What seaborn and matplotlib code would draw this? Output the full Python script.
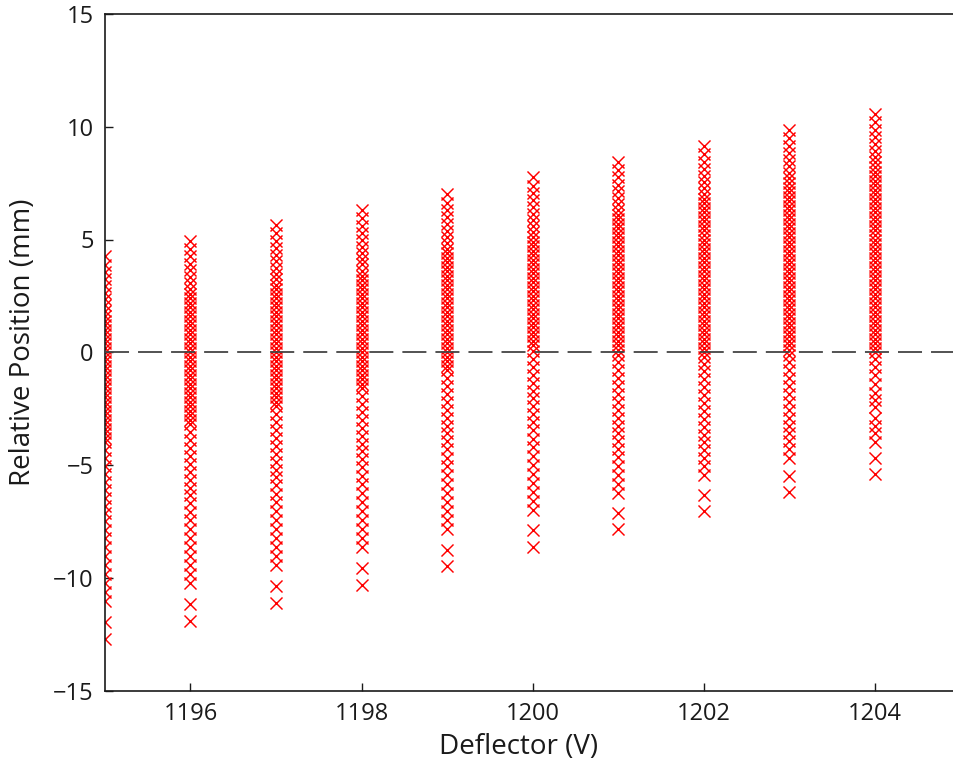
import numpy as np
import pandas as pd
import matplotlib
matplotlib.use("Agg")
import matplotlib.pyplot as plt
import seaborn as sns

# Deflector voltages (V)
voltages = [1195, 1196, 1197, 1198, 1199, 1200, 1201, 1202, 1203, 1204]

pos_1195 = [-12.7, -11.95, -11.05, -10.65, -10.25, -9.85, -9.45, -9.05, -8.65, -8.25, -7.9, -7.5,
            -7.15, -6.8, -6.45, -6.1, -5.75, -5.4, -5.05, -4.7, -4.35, -4.0,
            -3.8, -3.6, -3.4, -3.2, -3.0, -2.8, -2.6, -2.4, -2.2, -2.0, -1.8, -1.6, -1.4, -1.2,
            -1.0, -0.8, -0.6, -0.4, -0.2, 0.0, 0.2, 0.4, 0.6, 0.8, 1.0, 1.2, 1.4, 1.6,
            1.85, 2.09, 2.35, 2.63, 2.92, 3.23, 3.55, 3.89, 4.25]
pos_1196 = [-11.9, -11.15, -10.25, -9.85, -9.45, -9.05, -8.65, -8.25, -7.85, -7.45, -7.1, -6.7,
            -6.35, -6.0, -5.65, -5.3, -4.95, -4.6, -4.25, -3.9, -3.55, -3.2,
            -3.0, -2.8, -2.6, -2.4, -2.2, -2.0, -1.8, -1.6, -1.4, -1.2, -1.0, -0.8, -0.6, -0.4,
            -0.2, 0.0, 0.2, 0.4, 0.6, 0.8, 1.0, 1.2, 1.4, 1.6, 1.8, 2.0, 2.2, 2.4,
            2.6, 2.82, 3.07, 3.34, 3.63, 3.93, 4.25, 4.59, 4.95]
pos_1197 = [-11.1, -10.35, -9.45, -9.05, -8.65, -8.25, -7.85, -7.45, -7.05, -6.65, -6.3, -5.9,
            -5.55, -5.2, -4.85, -4.5, -4.15, -3.8, -3.45, -3.1, -2.75, -2.4,
            -2.2, -2.0, -1.8, -1.6, -1.4, -1.2, -1.0, -0.8, -0.6, -0.4, -0.2, 0.0, 0.2, 0.4,
            0.6, 0.8, 1.0, 1.2, 1.4, 1.6, 1.8, 2.0, 2.2, 2.4, 2.6, 2.8, 3.0,
            3.25, 3.49, 3.75, 4.03, 4.32, 4.63, 4.95, 5.29, 5.65]
pos_1198 = [-10.3, -9.55, -8.65, -8.25, -7.85, -7.45, -7.05, -6.65, -6.25, -5.85, -5.5, -5.1,
            -4.75, -4.4, -4.05, -3.7, -3.35, -3.0, -2.65, -2.3, -1.95, -1.6,
            -1.4, -1.2, -1.0, -0.8, -0.6, -0.4, -0.2, 0.0, 0.2, 0.4, 0.6, 0.8, 1.0, 1.2,
            1.4, 1.6, 1.8, 2.0, 2.2, 2.4, 2.6, 2.8, 3.0, 3.2, 3.4, 3.6,
            3.9, 4.14, 4.4, 4.68, 4.97, 5.28, 5.6, 5.94, 6.3]
pos_1199 = [-9.5, -8.75, -7.85, -7.45, -7.05, -6.65, -6.25, -5.85, -5.45, -5.05, -4.7, -4.3,
            -3.95, -3.6, -3.25, -2.9, -2.55, -2.2, -1.85, -1.5, -1.15, -0.8,
            -0.6, -0.4, -0.2, 0.0, 0.2, 0.4, 0.6, 0.8, 1.0, 1.2, 1.4, 1.6, 1.8, 2.0,
            2.2, 2.4, 2.6, 2.8, 3.0, 3.2, 3.4, 3.6, 3.8, 4.0, 4.2, 4.4,
            4.6, 4.84, 5.1, 5.38, 5.67, 5.98, 6.3, 6.64, 7.0]
pos_1200 = [-8.65, -7.9, -7.0, -6.6, -6.2, -5.8, -5.4, -5.0, -4.6, -4.2, -3.85, -3.45,
            -3.1, -2.75, -2.4, -2.05, -1.7, -1.35, -1.0, -0.65, -0.3, 0.05,
            0.3, 0.5, 0.7, 0.9, 1.1, 1.3, 1.5, 1.7, 1.9, 2.1, 2.3, 2.5, 2.7, 2.9,
            3.1, 3.3, 3.5, 3.7, 3.9, 4.1, 4.3, 4.5, 4.7, 4.9, 5.1,
            5.35, 5.59, 5.85, 6.13, 6.42, 6.73, 7.05, 7.39, 7.75]
pos_1201 = [-7.85, -7.15, -6.25, -5.85, -5.45, -5.05, -4.65, -4.3, -3.95, -3.6, -3.25, -2.9,
            -2.55, -2.2, -1.85, -1.5, -1.15, -0.8, -0.45,
            -0.1, 0.1, 0.3, 0.5, 0.7, 0.9, 1.1, 1.3, 1.5, 1.7, 1.9, 2.1, 2.3, 2.5, 2.7,
            2.9, 3.1, 3.3, 3.5, 3.7, 3.9, 4.1, 4.3, 4.5, 4.7, 4.9, 5.1, 5.3, 5.5, 5.7, 5.9,
            6.1, 6.32, 6.57, 6.84, 7.13, 7.43, 7.75, 8.09, 8.45]
pos_1202 = [-7.05, -6.35, -5.45, -5.05, -4.7, -4.35, -4.0, -3.65, -3.3, -2.95, -2.6, -2.25,
            -1.9, -1.55, -1.2, -0.85, -0.5,
            -0.2, 0.0, 0.2, 0.4, 0.6, 0.8, 1.0, 1.2, 1.4, 1.6, 1.8, 2.0, 2.2, 2.4, 2.6,
            2.8, 3.0, 3.2, 3.4, 3.6, 3.8, 4.0, 4.2, 4.4, 4.6, 4.8, 5.0, 5.2, 5.4, 5.6,
            5.8, 6.0, 6.2, 6.4, 6.6,
            6.8, 7.02, 7.27, 7.54, 7.83, 8.13, 8.45, 8.79, 9.15]
pos_1203 = [-6.2, -5.5, -4.7, -4.3, -3.95, -3.6, -3.25, -2.9, -2.55, -2.2, -1.85, -1.5,
            -1.15, -0.8, -0.45,
            -0.1, 0.1, 0.3, 0.5, 0.7, 0.9, 1.1, 1.3, 1.5, 1.7, 1.9, 2.1, 2.3, 2.5, 2.7,
            2.9, 3.1, 3.3, 3.5, 3.7, 3.9, 4.1, 4.3, 4.5, 4.7, 4.9, 5.1, 5.3, 5.5, 5.7,
            5.9, 6.1, 6.3, 6.5, 6.7, 6.9, 7.1, 7.3,
            7.5, 7.72, 7.97, 8.24, 8.53, 8.83, 9.15, 9.49, 9.85]
pos_1204 = [-5.4, -4.7, -4.0, -3.6, -3.25, -2.9, -2.45, -2.1, -1.8, -1.4, -1.0, -0.65, -0.3,
            0.0, 0.2, 0.4, 0.6, 0.8, 1.0, 1.2, 1.4, 1.6, 1.8, 2.0, 2.2, 2.4, 2.6, 2.8,
            3.0, 3.2, 3.4, 3.6, 3.8, 4.0, 4.2, 4.4, 4.6, 4.8, 5.0, 5.2, 5.4, 5.6, 5.8,
            6.0, 6.2, 6.4, 6.6, 6.8, 7.0, 7.2, 7.4, 7.6, 7.8, 8.0,
            8.2, 8.42, 8.67, 8.94, 9.23, 9.53, 9.85, 10.19, 10.55]

columns = [pos_1195, pos_1196, pos_1197, pos_1198, pos_1199,
           pos_1200, pos_1201, pos_1202, pos_1203, pos_1204]

xs, ys = [], []
for v, col in zip(voltages, columns):
    xs += [v] * len(col)
    ys += col
df = pd.DataFrame({"Deflector": xs, "Position": ys})

sns.set_style("ticks")
plt.rcParams["font.family"] = ["Open Sans", "DejaVu Sans"]

fig = plt.figure(figsize=(9.54, 7.64), dpi=100)
ax = fig.add_axes([104.9 / 954, 73.5 / 764, 855.6 / 954, 676.5 / 764])
sns.scatterplot(data=df, x="Deflector", y="Position", marker="x", color="#ff0000", s=75,
                linewidth=1.05, ax=ax, legend=False, zorder=2)
ax.axhline(0, color="#444444", lw=1.3, dashes=(13.3, 5.0), zorder=3)
ax.set_xlim(1195, 1205)
ax.set_ylim(-15, 15)
ax.set_xticks([1196, 1198, 1200, 1202, 1204])
ax.set_yticks([-15, -10, -5, 0, 5, 10, 15])
ax.tick_params(direction="in", length=5.8, width=1.0, labelsize=17, pad=8, colors="#1a1a1a")
for s in ax.spines.values():
    s.set_linewidth(1.2)
    s.set_color("#1a1a1a")
ax.set_xlabel("Deflector (V)", fontsize=20, color="#1a1a1a")
ax.set_ylabel("Relative Position (mm)", fontsize=20, color="#1a1a1a")
ax.xaxis.set_label_coords(0.483, -0.063)
ax.yaxis.set_label_coords(-0.079, 0.515)
fig.savefig("out.png", dpi=100)
